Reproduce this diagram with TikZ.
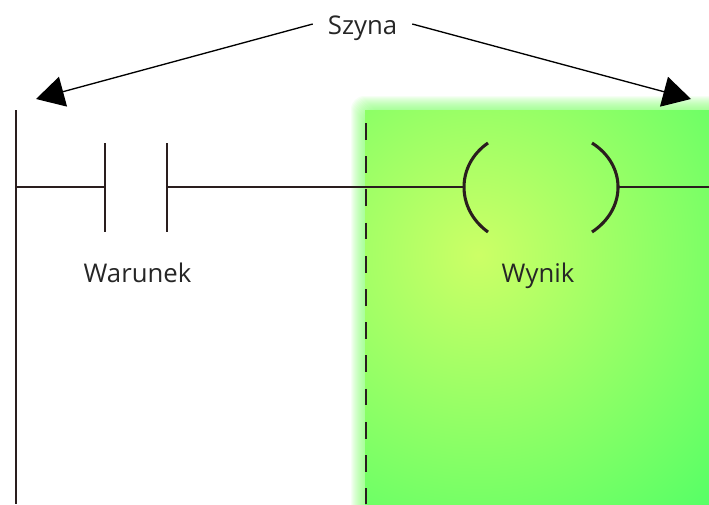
\documentclass[tikz,border=0pt]{standalone}
\usepackage{fontspec}
\setmainfont{Open Sans}
\usetikzlibrary{arrows.meta, positioning, calc}
\definecolor{railDark}{HTML}{2A1E1E}
\definecolor{textDark}{HTML}{262626}
\definecolor{glowGreen}{HTML}{7CFF66}
\definecolor{coreYellow}{HTML}{CCFF66}
\definecolor{edgeGreen}{HTML}{55FF66}
\tikzset{
    rail/.style={railDark, line width=0.85pt},
    contactBar/.style={railDark, line width=2pt},
    coilArc/.style={railDark, line width=2.3pt},
    dashLine/.style={railDark, line width=1pt, dash pattern=on 12.6pt off 12.3pt},
    busArrow/.style={black, line width=1pt, -{Triangle[length=21pt, width=23pt]}},
    caption/.style={text=textDark, font=\fontsize{19.3}{22}\selectfont, inner sep=0pt, text height=14pt, text depth=4pt}
}
\begin{document}
\begin{tikzpicture}[x=0.75pt, y=-0.75pt]
    \useasboundingbox (0,0) rectangle (709,504);
    % green field
    \begin{scope}
        \clip (0,0) rectangle (709,504);
        \foreach \g in {1,...,14} \fill[glowGreen, opacity=0.07, rounded corners=10pt] ({365-\g},{110-\g}) rectangle (760,560);
        \clip (365,110) rectangle (709,504);
        \fill[edgeGreen] (365,110) rectangle (709,504);
        \shade[inner color=coreYellow, outer color=edgeGreen] (478,255) circle (345);
    \end{scope}
    % bus label and arrows
    \node[caption, minimum width=74.25pt] (szyna) at (362.5,27.5) {Szyna};
    \coordinate (tipLeft) at (36,99);
    \coordinate (tipRight) at (691,99);
    \draw[busArrow] ($(szyna.west)+(0,-3.5)$) -- (tipLeft);
    \draw[busArrow] ($(szyna.east)+(0,-3.5)$) -- (tipRight);
    % rails
    \coordinate (railTop) at (16,110);
    \coordinate (railBottom) at (16,504);
    \coordinate (splitTop) at (366,123);
    \coordinate (splitBottom) at (366,504);
    \draw[rail] (railTop) -- (railBottom);
    \draw[dashLine] (splitTop) -- (splitBottom);
    % rung
    \coordinate (railJoin) at (16,187);
    \coordinate (contactLeft) at (105,187);
    \coordinate (contactRight) at (167,187);
    \coordinate (coilLeft) at (464,187);
    \coordinate (coilRight) at (618,187);
    \coordinate (rungEnd) at (709,187);
    \draw[rail] (railJoin) -- (contactLeft);
    \draw[rail] (contactRight) -- (coilLeft);
    \draw[rail] (coilRight) -- (rungEnd);
    \foreach \c in {contactLeft, contactRight} \draw[contactBar] ($(\c)+(0,-44)$) -- ($(\c)+(0,45)$);
    \draw[coilArc] (488,143) .. controls (456,165) and (456,209) .. (488,232);
    \draw[coilArc] (592,143) .. controls (626.7,165) and (626.7,209) .. (592,232);
    % captions
    \node[caption] (warunek) at (137.5,276) {Warunek};
    \node[caption] (wynik) at (538,276) {Wynik};
\end{tikzpicture}
\end{document}
